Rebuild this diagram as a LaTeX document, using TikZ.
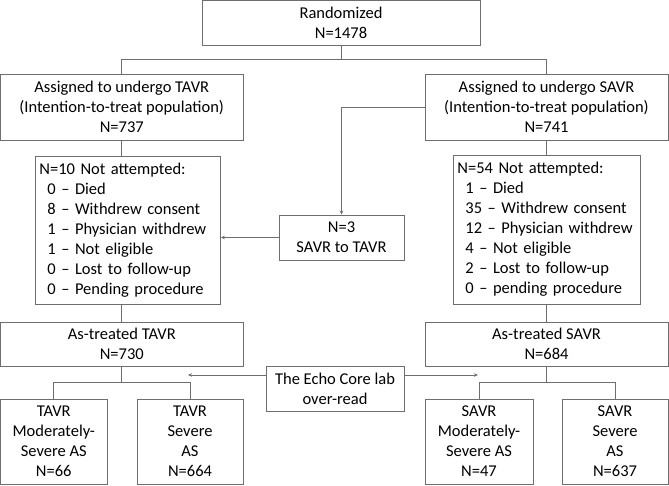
\documentclass[tikz,border=0pt]{standalone}
\usepackage{fontspec}
\setmainfont{Carlito}
\usetikzlibrary{arrows.meta}
\definecolor{linegray}{RGB}{110,110,110}

\begin{document}
\begin{tikzpicture}[x=1pt, y=-1pt,
  box/.style={draw=linegray, line width=0.9pt, fill=white, inner sep=0pt, align=center, font=\fontsize{16.5}{20}\selectfont},
  listbox/.style={box, align=left, inner xsep=4pt, anchor=west},
  link/.style={draw=linegray, line width=0.8pt},
  arr/.style={link, -{Stealth[length=4pt,width=3.5pt]}}]
\useasboundingbox (0,0) rectangle (669,485);
% --- Randomization and assignment ---
\node[box, minimum width=278pt, minimum height=44.5pt] (R) at (341,22.75) {Randomized\\N=1478};
\node[box, minimum width=242.5pt, minimum height=66pt] (AT) at (121.75,107) {Assigned to undergo TAVR\\(Intention-to-treat population)\\N=737};
\node[box, minimum width=243pt, minimum height=66pt] (AS) at (546.5,107) {Assigned to undergo SAVR\\(Intention-to-treat population)\\N=741};
% Not attempted lists
\def\ind{\hspace*{8pt}}
\node[listbox, text width=177pt, minimum height=148pt] (NT) at (35,230) {N=10 Not attempted:\\
  \ind 0 -- Died\\ \ind 8 -- Withdrew consent\\ \ind 1 -- Physician withdrew\\
  \ind 1 -- Not eligible\\ \ind 0 -- Lost to follow-up\\ \ind 0 -- Pending procedure};
\node[listbox, text width=179pt, minimum height=149pt] (NS) at (453,229.5) {N=54 Not attempted:\\
  \ind 1 -- Died\\ \ind 35 -- Withdrew consent\\ \ind 12 -- Physician withdrew\\
  \ind 4 -- Not eligible\\ \ind 2 -- Lost to follow-up\\ \ind 0 -- pending procedure};
% Crossover
\node[box, minimum width=125pt, minimum height=45pt] (X) at (341.5,237.5) {N=3\\SAVR to TAVR};
% --- As-treated ---
\node[box, minimum width=242.5pt, minimum height=44pt] (TT) at (121.75,344) {As-treated TAVR\\N=730};
\node[box, minimum width=243pt, minimum height=44pt] (TS) at (546.5,344) {As-treated SAVR\\N=684};
\node[box, minimum width=138pt, minimum height=45pt] (E) at (335,388.5) {The Echo Core lab\\over-read};
% Severity groups
\foreach \nm/\x/\w/\txt in {T1/53.75/106.5/{TAVR\\Moderately-\\Severe AS\\N=66},
                            T2/190/106/{TAVR\\Severe\\AS\\N=664},
                            S1/479/108/{SAVR\\Moderately-\\Severe AS\\N=47},
                            S2/615/106/{SAVR\\Severe\\AS\\N=637}} {
    \node[box, minimum width=\w pt, minimum height=85pt] (\nm) at (\x,441.5) {\txt};
}
% --- Connectors ---
\draw[link] (R.south) -- ++(0,15);
\draw[link] (AT.north) -- ++(0,-14) -| (AS.north);
\draw[link] (AT.south) -- (AT.south |- NT.north);
\draw[link] (AS.south) -- (AS.south |- NS.north);
\draw[arr] (AS.west) -| (X.north);
\draw[arr] (X.west) -- (X.west -| NT.east);
\draw[link] (TT.north) -- (TT.north |- NT.south);
\draw[link] (TS.north) -- (TS.north |- NS.south);
% Split into severity groups
\draw[link] (TT.south) -- ++(0,16.5);
\draw[link] (T1.north) -- ++(0,-16) -| (T2.north);
\draw[link] (TS.south) -- ++(0,16.5);
\draw[link] (S1.north) -- ++(0,-16) -| (S2.north);
% Echo over-read arrows
\coordinate (ET) at (188,375);
\coordinate (ES) at (478,375);
\draw[arr] (E.west |- ET) -- (ET);
\draw[arr] (E.east |- ES) -- (ES);
\end{tikzpicture}
\end{document}
